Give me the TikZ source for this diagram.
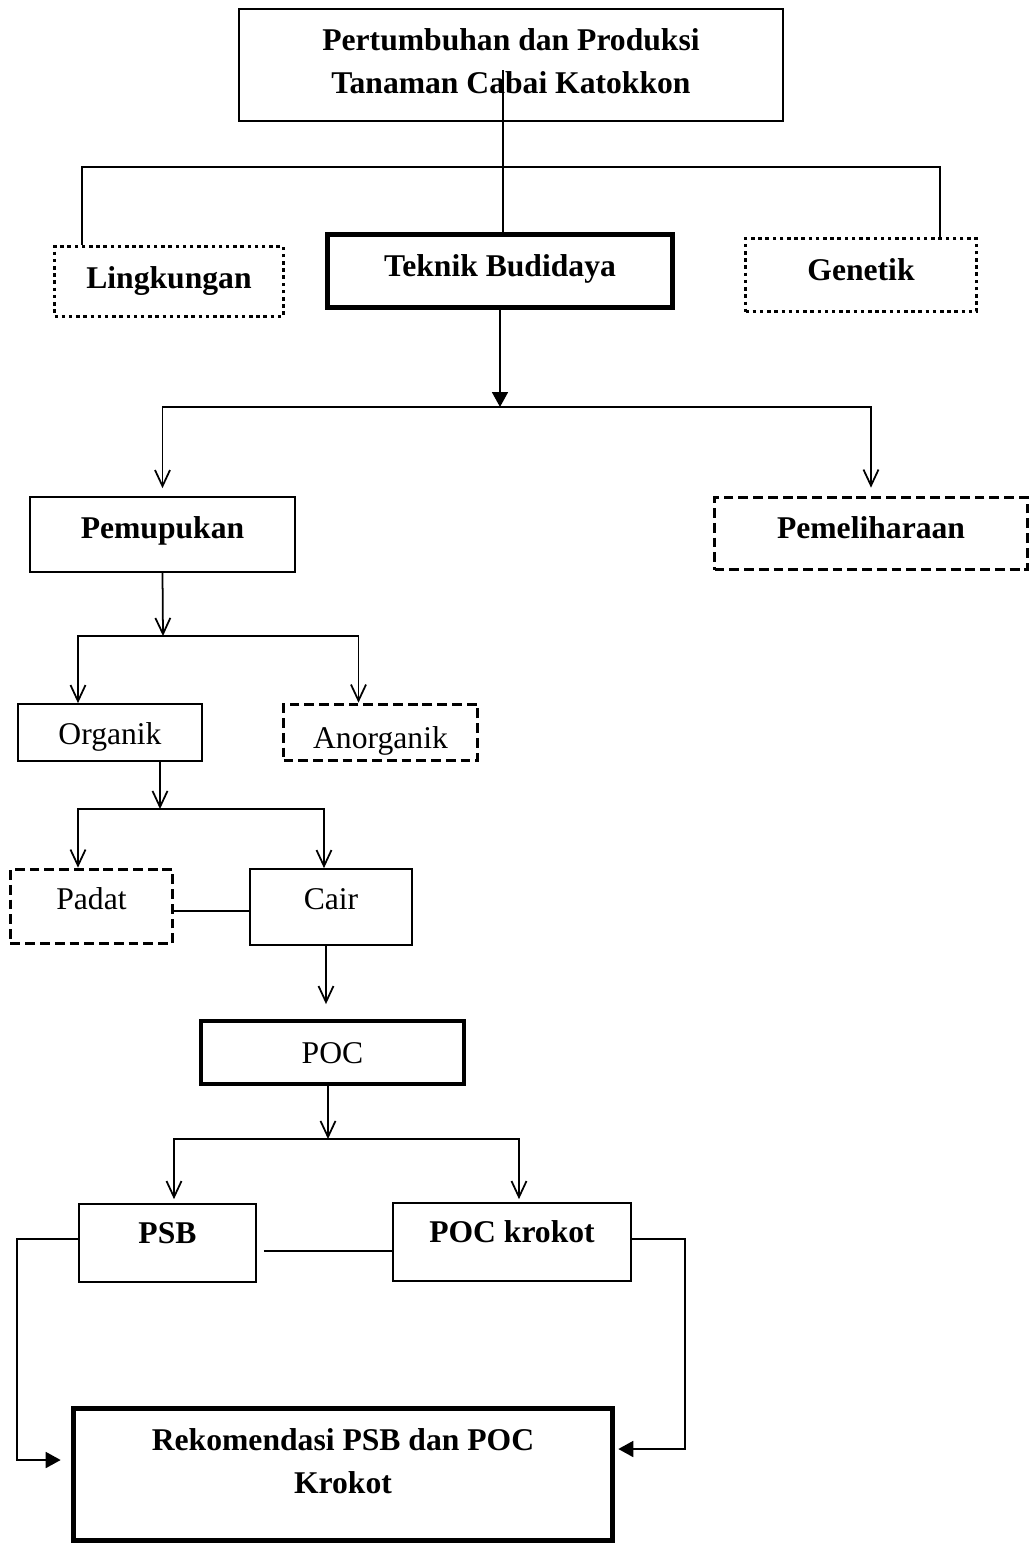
\documentclass[tikz,border=0pt]{standalone}
\usepackage{fontspec}
\setmainfont{Liberation Serif}
\usetikzlibrary{arrows.meta}

\begin{document}
\begin{tikzpicture}[line width=0.5pt,
		>={Straight Barb[length=1.6mm,width=1.5mm]},
		kotak/.style={draw, rectangle, inner sep=0pt, align=center, font=\fontsize{9}{12.2}\selectfont},
		tegas/.style={font=\fontsize{9}{12.2}\selectfont\bfseries},
		tebal/.style={kotak, line width=1.6pt},
		titik/.style={kotak, line width=1pt, dash pattern=on 1pt off 1.05pt},
		putus/.style={kotak, line width=1.05pt, dash pattern=on 2.8pt off 1.4pt},
		teks/.style 2 args={text height=#1, text depth=#2},
		panah/.style={-{Triangle[length=1.5mm,width=1.6mm]}}]
		\useasboundingbox (0,0) rectangle (10.31,-15.46);
		\node[kotak, tegas, minimum width=5.44cm, minimum height=1.12cm] (judul) at (5.11,-0.65) {Pertumbuhan dan Produksi\\ Tanaman Cabai Katokkon\rule[-2.2pt]{0pt}{2.2pt}};
		\node[titik, tegas, teks={6pt}{2pt}, minimum width=2.29cm, minimum height=0.70cm] (lingkungan) at (1.69,-2.815) {Lingkungan};
		\node[tebal, tegas, teks={6pt}{2.8pt}, minimum width=3.45cm, minimum height=0.73cm] (teknik) at (5.00,-2.71) {Teknik Budidaya};
		\node[titik, tegas, teks={6pt}{2.8pt}, minimum width=2.31cm, minimum height=0.73cm] (genetik) at (8.61,-2.75) {Genetik};
		\node[kotak, tegas, teks={6pt}{3.7pt}, minimum width=2.65cm, minimum height=0.75cm] (pemupukan) at (1.625,-5.345) {Pemupukan};
		\node[putus, tegas, teks={6pt}{3.2pt}, minimum width=3.13cm, minimum height=0.72cm] (pemeliharaan) at (8.71,-5.335) {Pemeliharaan};
		\node[kotak, teks={7pt}{0pt}, minimum width=1.84cm, minimum height=0.57cm] (organik) at (1.10,-7.325) {Organik};
		\node[putus, teks={9pt}{0pt}, minimum width=1.94cm, minimum height=0.56cm] (anorganik) at (3.805,-7.325) {Anorganik};
		\node[putus, teks={6pt}{4.2pt}, minimum width=1.62cm, minimum height=0.74cm] (padat) at (0.915,-9.065) {Padat};
		\node[kotak, teks={6pt}{4.6pt}, minimum width=1.62cm, minimum height=0.76cm] (cair) at (3.31,-9.07) {Cair};
		\node[kotak, line width=1.1pt, teks={6pt}{0pt}, minimum width=2.63cm, minimum height=0.63cm] (poc) at (3.325,-10.525) {POC};
		\node[kotak, tegas, teks={6pt}{5.7pt}, minimum width=1.77cm, minimum height=0.78cm] (psb) at (1.675,-12.43) {PSB};
		\node[kotak, tegas, teks={6pt}{5.7pt}, minimum width=2.38cm, minimum height=0.78cm] (krokot) at (5.12,-12.42) {POC krokot};
		\node[tebal, tegas, minimum width=5.39cm, minimum height=1.32cm] (rekom) at (3.43,-14.745) {Rekomendasi PSB dan POC\\ Krokot\rule[-7.6pt]{0pt}{7.6pt}};
		\coordinate (judulx) at (5.03,-0.70);
		\coordinate (cab1) at (5.03,-1.67);
		\coordinate (cab2) at (5.00,-4.07);
		\coordinate (cab3) at (1.63,-6.36);
		\coordinate (cab4) at (1.60,-8.09);
		\coordinate (cab5) at (3.28,-11.39);
		\draw (judulx) -- (judulx |- teknik.north);
		\draw ([xshift=-0.87cm]lingkungan.north) |- (cab1) -| ([xshift=0.79cm]genetik.north);
		\draw [panah] (teknik.south) -- (cab2);
		\draw [->, shorten >=0.08cm] (cab2) -| (pemupukan);
		\draw [->, shorten >=0.08cm] (cab2) -| (pemeliharaan);
		\draw [->] (pemupukan.south) -- (cab3);
		\draw [->] (cab3) -| ([xshift=-0.32cm]organik.north);
		\draw [->] (cab3) -| ([xshift=-0.22cm]anorganik.north);
		\draw [->] ([xshift=0.50cm]organik.south) -- (cab4);
		\draw [->] (cab4) -| ([xshift=-0.135cm]padat.north);
		\draw [->] (cab4) -| ([xshift=-0.07cm]cair.north);
		\draw ([yshift=-0.045cm]padat.east) -- ([yshift=-0.04cm]cair.west);
		\draw [->, shorten >=0.15cm] ([xshift=-0.05cm]cair.south) -- ([xshift=-0.05cm]cair.south |- poc.north);
		\draw [->] ([xshift=-0.045cm]poc.south) -- (cab5);
		\draw [->, shorten >=0.04cm] (cab5) -| ([xshift=0.065cm]psb.north);
		\draw [->, shorten >=0.03cm] (cab5) -| ([xshift=0.07cm]krokot.north);
		\draw ([xshift=0.07cm,yshift=-0.08cm]psb.east) -- ([yshift=-0.09cm]krokot.west);
		\draw [panah] ([yshift=0.04cm]psb.west) -- ++(-0.61,0) |- ([xshift=-0.1cm,yshift=0.145cm]rekom.west);
		\draw [panah] ([yshift=0.03cm]krokot.east) -- ++(0.53,0) |- ([xshift=0.03cm,yshift=0.255cm]rekom.east);
\end{tikzpicture}
\end{document}
